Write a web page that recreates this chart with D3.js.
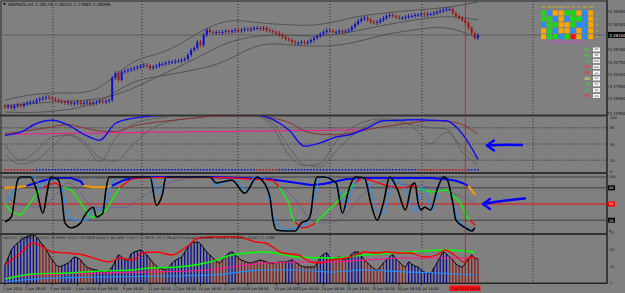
<!DOCTYPE html>
<html>
<head>
<meta charset="utf-8">
<script src="https://cdnjs.cloudflare.com/ajax/libs/d3/7.8.5/d3.min.js"></script>
<style>
  body { margin: 0; background: #808080; }
  svg { display: block; font-family: "DejaVu Sans", sans-serif; }
</style>
</head>
<body>
<svg id="chart" width="625" height="293"></svg>
<script>
// ---------- data ----------
const firstOpen = 2.139;
const closes = [
  2.137, 2.139, 2.135, 2.139, 2.141, 2.139,
  2.143, 2.145, 2.147, 2.147,
  2.151, 2.153, 2.155, 2.157, 2.155,
  2.153, 2.151, 2.149, 2.147, 2.145, 2.147, 2.143, 2.145, 2.147, 2.143,
  2.145, 2.147, 2.143, 2.145, 2.147, 2.149, 2.147, 2.149, 2.151,
  2.195,
  2.205, 2.191, 2.207,
  2.209, 2.211, 2.213, 2.215, 2.217, 2.219,
  2.221, 2.219, 2.215, 2.217, 2.219,
  2.223, 2.223, 2.225, 2.227, 2.227, 2.229, 2.229, 2.231, 2.233,
  2.241, 2.251, 2.255, 2.267, 2.261, 2.281, 2.291, 2.287,
  2.285, 2.287, 2.285, 2.287, 2.289, 2.287, 2.289, 2.291, 2.289,
  2.291, 2.293, 2.291, 2.293, 2.295, 2.295, 2.293, 2.295,
  2.291, 2.289, 2.287, 2.285, 2.281, 2.277, 2.273, 2.271, 2.267, 2.265,
  2.265, 2.267, 2.265, 2.267,
  2.271, 2.275, 2.279, 2.283, 2.287, 2.291, 2.289,
  2.287, 2.287, 2.289, 2.287, 2.289, 2.291,
  2.297, 2.303, 2.309, 2.313, 2.315,
  2.311, 2.307, 2.305, 2.307,
  2.311, 2.315, 2.319, 2.321,
  2.319, 2.317, 2.315, 2.315,
  2.317, 2.319, 2.319, 2.321, 2.321, 2.323, 2.321, 2.323, 2.323,
  2.325, 2.327, 2.329, 2.331, 2.333, 2.333,
  2.325, 2.319, 2.315, 2.311, 2.305,
  2.295, 2.285, 2.275, 2.281
];

// bollinger bands, one value every 10 bars
const bandUpper = [2.151, 2.165, 2.165, 2.165, 2.235, 2.241, 2.281, 2.315, 2.305, 2.301, 2.299, 2.317, 2.325, 2.331, 2.335, 2.347];
const bandMiddle = [2.139, 2.145, 2.149, 2.151, 2.171, 2.203, 2.231, 2.267, 2.281, 2.281, 2.277, 2.287, 2.301, 2.311, 2.321, 2.311];
const bandLower = [2.127, 2.125, 2.131, 2.143, 2.191, 2.199, 2.211, 2.225, 2.267, 2.261, 2.257, 2.263, 2.283, 2.291, 2.301, 2.275];

const priceLabels = [2.329, 2.303, 2.253, 2.227, 2.203, 2.179, 2.155, 2.125];
const lastPrice = 2.281;

// panel 2 (0..100), one value every 5 bars
const p2Blue = [66, 72, 88, 94, 85, 68, 57, 88, 97, 101, 103, 103, 103, 103, 103, 103, 103, 95, 76, 46, 52, 63, 68, 80, 93, 94, 95, 94, 93, 69, 22];
const p2Brown = [69, 73, 77, 82, 86, 80, 74, 73, 82, 88, 92, 95, 98, 101, 102, 102, 102, 98, 90, 74, 68, 67, 71, 77, 82, 86, 90, 93, 92, 86, 68];
const p2Magenta = [68, 68, 69, 69, 70, 70, 70, 71, 71, 72, 72, 72, 73, 73, 73, 74, 74, 74, 75, 75, 75, 76, 76, 76];
const p2Gray1 = [48, 20, 37, 63, 66, 50, 17, 60, 85, 95, 99, 102, 102, 102, 102, 102, 102, 80, 30, 10, 14, 55, 80, 93, 97, 94, 78, 50, 72, 45, 20];
const p2Gray2 = [30, 13, 20, 45, 68, 55, 25, 18, 45, 72, 88, 95, 98, 101, 101, 101, 101, 88, 45, 12, 8, 37, 65, 85, 95, 90, 85, 80, 78, 35, 12];
const p2Levels = [100, 80, 50, 20, 0];
const dotRuns = [["r", 10], ["b", 70], ["r", 7], ["b", 44], ["r", 16], ["b", 4]];

// panel 3 (0..100), [bar, value]
const p3Fast = [[0,17],[2,26],[4,94],[5,100],[8,100],[10,76],[12,33],[13.5,76],[14.5,100],[17,94],[18,63],[19,15],[21,6],[24,15],[25,26],[28,44],[29,26],[31,33],[32,76],[33,100],[46,100],[48,48],[50,70],[51,100],[65,100],[67,89],[72,94],[76,70],[80,100],[81.5,94],[84,63],[85,20],[86,2],[89,0],[92,0],[94,15],[96,20],[97,33],[98,81],[99,100],[101,100],[105,89],[107,33],[109,76],[111,100],[114,98],[116,52],[118,20],[120,52],[122,100],[124.5,76],[127,39],[129,85],[130,89],[131,52],[132,39],[133,44],[135,39],[137,76],[139,100],[140,98],[142,52],[143,20],[146,6],[148,0],[149,6]];
const p3Slow = [[0,52],[3,75],[5,100],[10,100],[11,76],[13,90],[15,100],[18,81],[20,26],[23,20],[26,20],[28,39],[30,39],[32,52],[34,89],[36,100],[46,100],[49,70],[51,94],[53,100],[65,100],[67,85],[72,94],[77,75],[79,100],[82,100],[84,52],[86,15],[89,2],[93,6],[96,17],[98,57],[100,100],[102,100],[106,76],[108,44],[110,76],[112,100],[115,89],[118,39],[120,33],[122,76],[124,94],[128,63],[130,33],[132,81],[134,63],[135,39],[136,44],[138,94],[140,100],[142,52],[144,20],[146,7],[148,2],[149,7]];
const p3Signal = [[0,52],[2,35],[5,30],[8,52],[11,76],[13.5,85],[16,89],[18.5,81],[21,76],[24,52],[27,26],[29,26],[32,39],[35,67],[36.5,81],[40.5,98],[50,99],[70,99],[85,94],[87,81],[90,52],[91,26],[92,17],[94,6],[96,7],[98.5,15],[101.5,33],[105,52],[108,70],[111,89],[113,98],[116,94],[120.5,85],[124.5,80],[127.5,81],[129,85],[131,79],[135,72],[140,76],[142.5,63],[144.5,52],[146.5,26],[147.5,20],[149,11]];
const p3Trend = [[0,80],[4,81],[7,84],[12,93],[16,98],[21,98],[24,92],[25,84],[28,81],[32,81],[34,84],[38,95],[43,100],[65,100],[75,98],[84,96],[90,91],[97,85],[101,87],[108,96],[114,98],[135,98],[140,96],[143,93],[145,89],[147,83],[149,68]];
const p3Dotted = [[0,67],[5,48],[12,44],[16,67],[20,89],[24,70],[28,43],[34,43],[38,44],[43,61],[49,81],[55,94],[65,100],[78,100],[88,81],[93,52],[97,20],[100,15],[106,20],[110,44],[114,70],[118,89],[122,94],[124,89],[135,81],[141,72],[145,63],[149,52]];

// panel 4: histogram per bar and lines [bar, value]
const adxHist = [36,50,66,74,80,86,90,93,95,96,92,84,76,68,56,46,38,33,34,37,40,46,52,50,46,38,32,29,27,26,24,22,20,25,32,44,56,52,47,46,58,62,64,66,62,56,48,40,34,30,28,26,32,40,45,49,52,62,72,80,81,82,78,70,62,56,50,44,40,46,54,60,62,56,50,46,43,41,40,42,44,46,44,42,40,40,41,42,42,42,44,46,42,38,34,32,32,32,32,40,52,57,60,50,46,50,52,49,46,52,58,62,62,54,46,40,34,29,26,32,40,46,52,56,48,42,36,32,42,38,34,32,26,22,20,20,30,40,52,62,58,52,46,38,34,32,40,46,56,50,48];
const histRuns = [["b",11],["r",7],["b",6],["r",4],["b",18],["r",5],["b",15],["r",5],["b",3],["r",15],["b",3],["r",7],["b",5],["r",5],["b",5],["r",7],["b",4],["r",3],["b",13],["r",10]];
const p4Red = [[0,36],[2,46],[5,60],[9,80],[12,72],[15,62],[20,60],[25,56],[30,46],[33,42],[36.5,50],[40.5,46],[43.5,60],[48,62],[53,56],[57.5,72],[61.5,90],[68,92],[74,92],[79.5,82],[82.5,80],[88,60],[93,56],[97,42],[100,40],[103.5,46],[108,50],[111,56],[114,62],[118,60],[121,62],[124.5,60],[128.5,60],[133,52],[137,56],[139.5,66],[142.5,56],[145.5,42],[147.5,52],[149,50]];
const p4Green = [[0,8],[9,18],[20,20],[30,24],[40.5,26],[46,30],[55,32],[65,42],[72,56],[82.5,62],[93,52],[103.5,50],[114,56],[127.5,62],[140,66],[149,62]];
const p4Magenta = [[0,10],[9,16],[30,20],[65,26],[72,32],[82.5,40],[93,42],[103.5,42],[114,46],[127.5,50],[137,50],[149,50]];
const p4Blue = [[0,2],[9,8],[30,12],[65,16],[82.5,26],[93,26],[103.5,22],[114,26],[127.5,22],[137,20],[149,16]];

// time axis
const timeLabels = ["1 Jun 2015","2 Jun 08:00","3 Jun 16:00","5 Jun 00:00","8 Jun 08:00","9 Jun 16:00","11 Jun 00:00","12 Jun 08:00","15 Jun 16:00","17 Jun 00:00","18 Jun 08:00","19 Jun 16:00","23 Jun 00:00","24 Jun 08:00","25 Jun 16:00","29 Jun 00:00","30 Jun 08:00","1 Jul 16:00"];
const timeBars = [0, 7, 15, 23, 30, 38, 46, 54, 62, 70, 77, 86, 93, 101, 109, 117, 125, 132];
const cursorLabel = "7 Jul 2015 08:00";
const cursorBar = 146;

// dashboard
const dashCols = ["M1","M5","M15","M30","H1","H4","D1","W1","MN"];
const dashRows = ["1","2","3","4","5"];
const dashGrid = ["gbooggobo", "ggbobggbo", "bggoogbbo", "ogboobobo", "oggbgrobo"];
const strengthValues = [64, 97, 74, -78, -66, -66, 78, 74, -66];
const strengthTags = ["M1","M5","M15","M30","H1","H4","D1","W1","MN"];

// ---------- drawing ----------
const svg = d3.select("#chart");
const plotR = 607;
const gridX = [53, 142, 238, 330, 422, 533];

const x = d3.scaleLinear().domain([0, closes.length - 1]).range([5, 478]);
const yMain = d3.scaleLinear().domain([2.121, 2.351]).range([115, 0]);
const y2 = d3.scaleLinear().domain([0, 100]).range([171, 117]);
const y3 = d3.scaleLinear().domain([0, 100]).range([231, 177]);
const y4 = d3.scaleLinear().domain([0, 100]).range([283, 233]);

const colors = { b: "#0c0cae", r: "#8e1212" };

// clip regions per panel
const defs = svg.append("defs");
[["cMain", 1, 115], ["c2", 116, 172], ["c3", 174, 233], ["c4", 235, 283]].forEach(([id, t, b]) => {
  defs.append("clipPath").attr("id", id).append("rect").attr("x", 0).attr("y", t).attr("width", plotR).attr("height", b - t);
});

// frames
svg.append("rect").attr("x", 1).attr("y", 1).attr("width", plotR - 1).attr("height", 282)
  .attr("fill", "#808080").attr("stroke", "#2a2a2a").attr("stroke-width", 1);
[115.5, 173, 234].forEach(yy => {
  svg.append("rect").attr("x", 0).attr("y", yy - 1).attr("width", plotR).attr("height", 2).attr("fill", "#333");
});
svg.append("line").attr("x1", plotR).attr("x2", plotR).attr("y1", 0).attr("y2", 284).attr("stroke", "#222");
svg.append("line").attr("x1", 0).attr("x2", plotR).attr("y1", 283.5).attr("y2", 283.5).attr("stroke", "#222");

// vertical dotted grid
gridX.forEach(gx => {
  svg.append("line").attr("x1", gx).attr("x2", gx).attr("y1", 1).attr("y2", 283)
    .attr("stroke", "#2e2e2e").attr("stroke-dasharray", "1,2");
});

// ---- main panel ----
const gMain = svg.append("g").attr("clip-path", "url(#cMain)");
gMain.append("line").attr("x1", 1).attr("x2", plotR).attr("y1", yMain(lastPrice)).attr("y2", yMain(lastPrice))
  .attr("stroke", "#555").attr("stroke-width", 0.8);

const bandLine = d3.line().x((d, i) => x(i * 10)).y(d => yMain(d)).curve(d3.curveBasis);
[bandUpper, bandMiddle, bandLower].forEach(arr => {
  gMain.append("path").datum(arr).attr("d", bandLine).attr("fill", "none").attr("stroke", "#4e4e4e").attr("stroke-width", 0.9);
});

const candles = closes.map((c, i) => ({ i, o: i === 0 ? firstOpen : closes[i - 1], c }));
const cg = gMain.append("g");
cg.selectAll("line.wick").data(candles).join("line")
  .attr("x1", d => x(d.i)).attr("x2", d => x(d.i))
  .attr("y1", d => yMain(Math.max(d.o, d.c)) - 2).attr("y2", d => yMain(Math.min(d.o, d.c)) + 2)
  .attr("stroke", d => d.c >= d.o ? colors.b : colors.r).attr("stroke-width", 0.8);
cg.selectAll("rect.body").data(candles).join("rect")
  .attr("x", d => x(d.i) - 1).attr("width", 2)
  .attr("y", d => yMain(Math.max(d.o, d.c)))
  .attr("height", d => Math.max(1, Math.abs(yMain(d.o) - yMain(d.c))))
  .attr("fill", d => d.c >= d.o ? "#1010d0" : "#a01414");

svg.append("text").attr("x", 8).attr("y", 5.5).attr("font-size", 4.3).attr("fill", "#111")
  .text("GBPNZD,H4  2.28178 2.28342 2.27980 2.28099");
svg.append("path").attr("d", "M3,3 L6,3 L4.5,5.5 Z").attr("fill", "#111");

// price axis
priceLabels.forEach(p => {
  svg.append("line").attr("x1", plotR).attr("x2", plotR + 2).attr("y1", yMain(p)).attr("y2", yMain(p)).attr("stroke", "#222");
  svg.append("text").attr("x", plotR + 2.5).attr("y", yMain(p) + 1.5).attr("font-size", 4).attr("fill", "#111").text(p.toFixed(5));
});
svg.append("rect").attr("x", plotR + 1).attr("y", yMain(lastPrice) - 3).attr("width", 17).attr("height", 6).attr("fill", "#000");
svg.append("text").attr("x", plotR + 2.5).attr("y", yMain(lastPrice) + 1.5).attr("font-size", 4).attr("fill", "#fff").text(lastPrice.toFixed(5));

// dashboard
const dash = svg.append("g");
dashCols.forEach((c, j) => {
  dash.append("text").attr("x", 543.5 + j * 5.9).attr("y", 8).attr("font-size", 2.6).attr("text-anchor", "middle").attr("fill", "#e0c000").text(c);
});
dashGrid.forEach((row, r) => {
  row.split("").forEach((k, j) => {
    dash.append("rect").attr("x", 541 + j * 5.9).attr("y", 10.5 + r * 5.9).attr("width", 5).attr("height", 5)
      .attr("fill", { g: "#10e010", b: "#1e90ff", o: "#ffa500", r: "#ff1010" }[k]);
  });
  dash.append("text").attr("x", 596).attr("y", 14.5 + r * 5.9).attr("font-size", 2.8).attr("fill", "#e0c000").text(dashRows[r]);
});
dash.append("text").attr("x", 567).attr("y", 43).attr("font-size", 3).attr("text-anchor", "middle").attr("fill", "#e020e0")
  .text("HEIKIN ASHI ULTRA BAR");
strengthValues.forEach((v, k) => {
  const yy = 51 + k * 5.8;
  dash.append("text").attr("x", 590).attr("y", yy).attr("font-size", 4.3).attr("text-anchor", "end")
    .attr("fill", k === 5 ? "#e8e060" : (v > 0 ? "#20e020" : "#ff2020")).text(v);
  dash.append("rect").attr("x", 593).attr("y", yy - 3.5).attr("width", 7).attr("height", 4).attr("fill", "#f4f4f4");
  dash.append("text").attr("x", 596.5).attr("y", yy - 0.6).attr("font-size", 2.4).attr("text-anchor", "middle").attr("fill", "#333").text(strengthTags[k]);
});

// ---- panel 2 ----
const g2 = svg.append("g").attr("clip-path", "url(#c2)");
[80, 50, 20].forEach(v => {
  g2.append("line").attr("x1", 1).attr("x2", plotR).attr("y1", y2(v)).attr("y2", y2(v))
    .attr("stroke", "#333").attr("stroke-dasharray", "1.5,1.5").attr("stroke-width", 0.8);
});
const line5 = yS => d3.line().x((d, i) => x(i * 5)).y(d => yS(d)).curve(d3.curveMonotoneX);
[p2Gray1, p2Gray2].forEach(a => g2.append("path").datum(a).attr("d", line5(y2)).attr("fill", "none").attr("stroke", "#585858").attr("stroke-width", 0.8));
g2.append("path").datum(p2Magenta).attr("d", line5(y2)).attr("fill", "none").attr("stroke", "#ff1493").attr("stroke-width", 1);
g2.append("path").datum(p2Brown).attr("d", line5(y2)).attr("fill", "none").attr("stroke", "#8a3030").attr("stroke-width", 1);
g2.append("path").datum(p2Blue).attr("d", line5(y2)).attr("fill", "none").attr("stroke", "#1010ee").attr("stroke-width", 1.4);

const dotStates = dotRuns.flatMap(([k, n]) => Array(n).fill(k));
g2.selectAll("rect.dot").data(dotStates).join("rect")
  .attr("x", (d, i) => x(i) - 0.8).attr("y", 169).attr("width", 1.6).attr("height", 1.6)
  .attr("fill", d => d === "r" ? "#c01010" : "#1414d0");

p2Levels.forEach(v => {
  svg.append("text").attr("x", plotR + 3).attr("y", y2(v) + 1.5).attr("font-size", 3.6).attr("fill", "#111").text(v);
});

// ---- panel 3 ----
const g3 = svg.append("g").attr("clip-path", "url(#c3)");
[100, 80, 20].forEach(v => {
  g3.append("line").attr("x1", 1).attr("x2", plotR).attr("y1", y3(v)).attr("y2", y3(v)).attr("stroke", "#3a3a3a").attr("stroke-width", 0.9);
});
g3.append("line").attr("x1", 1).attr("x2", plotR).attr("y1", y3(50)).attr("y2", y3(50)).attr("stroke", "#ff0000").attr("stroke-width", 0.9);
const kp = yS => d3.line().x(d => x(d[0])).y(d => yS(d[1])).curve(d3.curveMonotoneX);
g3.append("path").datum(p3Dotted).attr("d", kp(y3)).attr("fill", "none").attr("stroke", "#4040a0").attr("stroke-width", 0.8).attr("stroke-dasharray", "1,1");

// trend line: blue above 84, orange below
for (let k = 0; k < p3Trend.length - 1; k++) {
  const a = p3Trend[k], b = p3Trend[k + 1];
  g3.append("line").attr("x1", x(a[0])).attr("y1", y3(a[1])).attr("x2", x(b[0])).attr("y2", y3(b[1]))
    .attr("stroke", (a[1] + b[1]) / 2 >= 84 ? "#0000ff" : "#ff9900").attr("stroke-width", 2).attr("stroke-linecap", "round");
}
// signal line: red in the zones, green between
for (let k = 0; k < p3Signal.length - 1; k++) {
  const a = p3Signal[k], b = p3Signal[k + 1];
  const m = (a[1] + b[1]) / 2;
  g3.append("line").attr("x1", x(a[0])).attr("y1", y3(a[1])).attr("x2", x(b[0])).attr("y2", y3(b[1]))
    .attr("stroke", (m > 80 || m < 20) ? "#ff0000" : "#00ff00").attr("stroke-width", 1.3).attr("stroke-linecap", "round");
}
g3.append("path").datum(p3Slow).attr("d", kp(y3)).attr("fill", "none").attr("stroke", "#1e90ff").attr("stroke-width", 1.1);
g3.append("path").datum(p3Fast).attr("d", kp(y3)).attr("fill", "none").attr("stroke", "#000").attr("stroke-width", 1.6);

svg.append("text").attr("x", 3).attr("y", 179).attr("font-size", 3.4).attr("fill", "#303030")
  .text("StochRSI(8,5,3) 98.0186 94.8213 96.6437 88.4157 21.3908 100.0000");
[[100, "100"], [80, "80"], [50, "50"], [20, "20"], [0, "0"]].forEach(([v, t]) => {
  const boxed = v === 80 || v === 50 || v === 20;
  if (boxed) svg.append("rect").attr("x", plotR + 1).attr("y", y3(v) - 2.5).attr("width", 7).attr("height", 5).attr("fill", v === 50 ? "#ff0000" : "#000");
  svg.append("text").attr("x", plotR + 2).attr("y", y3(v) + 1.4).attr("font-size", 3.4).attr("fill", boxed ? "#fff" : "#111").text(t);
});

// ---- panel 4 ----
const g4 = svg.append("g").attr("clip-path", "url(#c4)");
const histStates = histRuns.flatMap(([k, n]) => Array(n).fill(k));
g4.selectAll("line.hist").data(adxHist).join("line")
  .attr("x1", (d, i) => x(i)).attr("x2", (d, i) => x(i))
  .attr("y1", y4(0)).attr("y2", d => y4(d))
  .attr("stroke", (d, i) => histStates[i] === "r" ? "#8b1c1c" : "#0a0a9a").attr("stroke-width", 1.3);
g4.append("path").datum(adxHist).attr("d", d3.line().x((d, i) => x(i)).y(d => y4(d)).curve(d3.curveMonotoneX))
  .attr("fill", "none").attr("stroke", "#000").attr("stroke-width", 1);
g4.append("path").datum(p4Blue).attr("d", kp(y4)).attr("fill", "none").attr("stroke", "#1e90ff").attr("stroke-width", 1.2);
g4.append("path").datum(p4Magenta).attr("d", kp(y4)).attr("fill", "none").attr("stroke", "#ff1493").attr("stroke-width", 1.2);
g4.append("path").datum(p4Green).attr("d", kp(y4)).attr("fill", "none").attr("stroke", "#00ff00").attr("stroke-width", 1.3);
g4.append("path").datum(p4Red).attr("d", kp(y4)).attr("fill", "none").attr("stroke", "#ff0000").attr("stroke-width", 1.3);

svg.append("text").attr("x", 3).attr("y", 239).attr("font-size", 3.6).attr("fill", "#202020")
  .text("ADX(21) 20.5698  +DI(21) 16.6900  -DI(21) 23.5828  ADX(7) 46.1687  +DI(7) 17.8873  -DI(7) 36.4229  ADX(42) 19.8588  +DI(42) 18.8087  -DI(42) 17.1166");
[[100, "33"], [66, "50"], [32, "20"], [0, "1"]].forEach(([v, t]) => {
  svg.append("text").attr("x", plotR + 3).attr("y", y4(v) + 1.4).attr("font-size", 3.4).attr("fill", "#111").text(t);
});

// red cursor line
svg.append("line").attr("x1", x(cursorBar)).attr("x2", x(cursorBar)).attr("y1", 1).attr("y2", 283)
  .attr("stroke", "#e01010").attr("stroke-width", 0.8);

// time axis
timeLabels.forEach((t, k) => {
  const tx = x(timeBars[k]);
  svg.append("line").attr("x1", tx).attr("x2", tx).attr("y1", 283).attr("y2", 285.5).attr("stroke", "#222");
  svg.append("text").attr("x", tx - 2).attr("y", 289.5).attr("font-size", 3.6).attr("fill", "#111").text(t);
});
svg.append("rect").attr("x", x(cursorBar) - 16).attr("y", 285.5).attr("width", 31).attr("height", 5.5).attr("fill", "#ff1010");
svg.append("text").attr("x", x(cursorBar)).attr("y", 289.7).attr("font-size", 3.6).attr("text-anchor", "middle").attr("fill", "#111").text(cursorLabel);

// hand drawn arrows
const arrow = (x1, y1, x2, y2) => {
  svg.append("path").attr("d", `M${x1},${y1} Q${(x1 + x2) / 2},${(y1 + y2) / 2 - 1} ${x2},${y2}`)
    .attr("fill", "none").attr("stroke", "#0000ff").attr("stroke-width", 2.4).attr("stroke-linecap", "round");
  svg.append("path").attr("d", `M${x2 + 7},${y2 - 5} L${x2},${y2} L${x2 + 7},${y2 + 5}`)
    .attr("fill", "none").attr("stroke", "#0000ff").attr("stroke-width", 2.4).attr("stroke-linecap", "round").attr("stroke-linejoin", "round");
};
arrow(522, 145, 487, 145.5);
arrow(525, 198.5, 483, 204);
</script>
</body>
</html>
